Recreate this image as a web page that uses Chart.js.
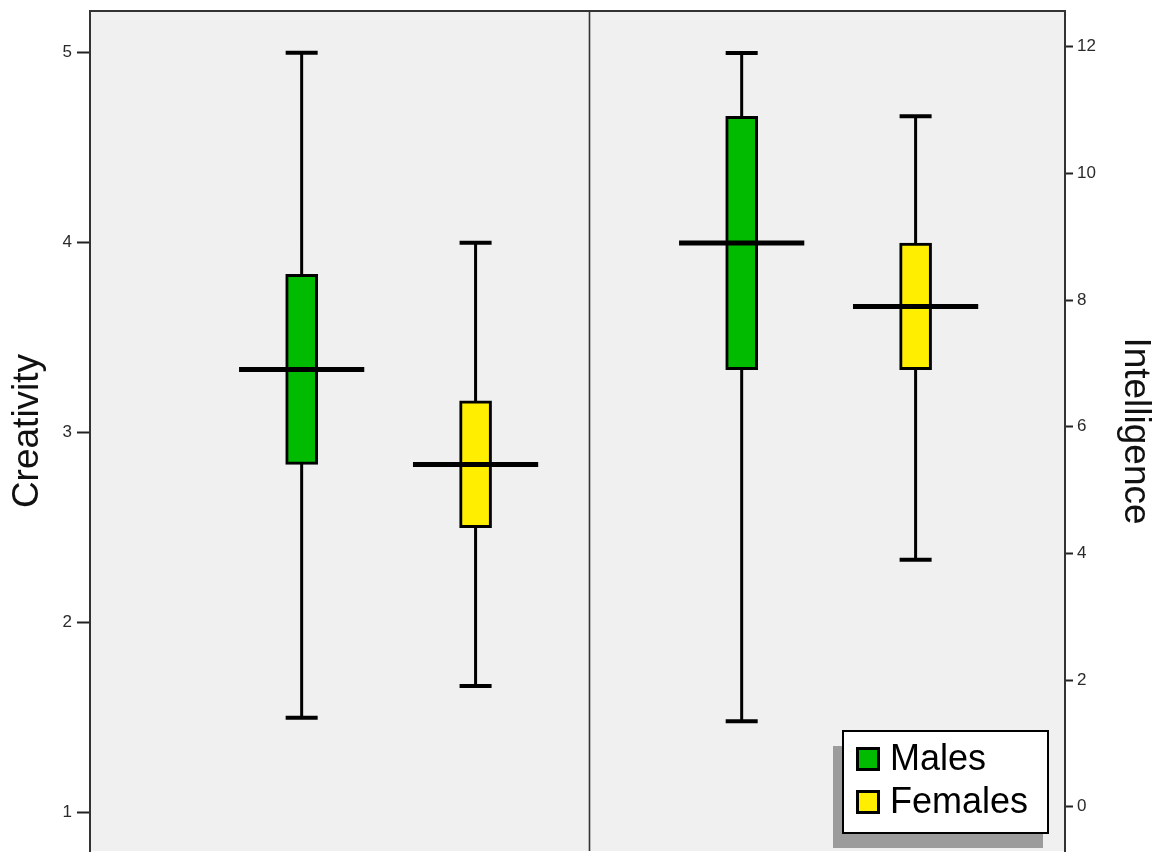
<!DOCTYPE html>
<html>
<head>
<meta charset="utf-8">
<title>Creativity and Intelligence by Sex</title>
<script src="https://cdn.jsdelivr.net/npm/chart.js@4.4.1/dist/chart.umd.min.js"></script>
<style>
  html, body { margin: 0; padding: 0; background: #ffffff; }
  #wrap { width: 1160px; height: 854px; }
  canvas { display: block; }
</style>
</head>
<body>
<div id="wrap"><canvas id="chart" width="1160" height="854"></canvas></div>
<script>
// Groups and measures
const groups = ['Males', 'Females'];
const measures = ['Creativity', 'Intelligence'];

// Creativity five-number summaries (Males, Females)
const creativityMin    = [1.5,   1.667];
const creativityQ1     = [2.833, 2.5];
const creativityMedian = [3.333, 2.833];
const creativityQ3     = [3.833, 3.167];
const creativityMax    = [5.0,   4.0];

// Intelligence five-number summaries (Males, Females)
const intelligenceMin    = [1.35, 3.9];
const intelligenceQ1     = [6.9,  6.9];
const intelligenceMedian = [8.9,  7.9];
const intelligenceQ3     = [10.9, 8.9];
const intelligenceMax    = [11.9, 10.9];

// Tick labels
const creativityTicks   = [1, 2, 3, 4, 5];
const intelligenceTicks = [0, 2, 4, 6, 8, 10, 12];

// ---- styling and layout ----
const FONT = "'Liberation Sans', Arial, Helvetica, sans-serif";
const groupFill = ['#00bb00', '#ffee00'];
const plotBg = '#f0f0f0';
const frameColor = '#333333';

// horizontal layout in x-axis units (one unit = distance between the two boxes of a panel)
const clusterStart = [0, 2.53];
const panelDivider = 1.652;
const xRange = { min: -1.217, max: 4.389 };
const capHalf = 0.092;
const medianHalf = 0.36;

const xPos = (m, g) => clusterStart[m] + g;

const summaries = [
  { min: creativityMin, q1: creativityQ1, med: creativityMedian, q3: creativityQ3, max: creativityMax, axis: 'yC' },
  { min: intelligenceMin, q1: intelligenceQ1, med: intelligenceMedian, q3: intelligenceQ3, max: intelligenceMax, axis: 'yI' }
];

const lineStyle = { type: 'line', borderColor: '#000000', pointRadius: 0, spanGaps: false,
                    tension: 0, borderCapStyle: 'butt', fill: false };

const datasets = [];
summaries.forEach((s, m) => {
  const stems = [], caps = [], medians = [];
  groups.forEach((g, i) => {
    const x = xPos(m, i);
    stems.push({ x, y: s.min[i] }, { x, y: s.max[i] }, { x, y: null });
    caps.push({ x: x - capHalf, y: s.min[i] }, { x: x + capHalf, y: s.min[i] }, { x, y: null },
              { x: x - capHalf, y: s.max[i] }, { x: x + capHalf, y: s.max[i] }, { x, y: null });
    medians.push({ x: x - medianHalf, y: s.med[i] }, { x: x + medianHalf, y: s.med[i] }, { x, y: null });
  });
  datasets.push(Object.assign({}, lineStyle, { label: measures[m] + ' whiskers', data: stems, yAxisID: s.axis, borderWidth: 3, order: 4 }));
  datasets.push(Object.assign({}, lineStyle, { label: measures[m] + ' caps', data: caps, yAxisID: s.axis, borderWidth: 4, order: 3 }));
  datasets.push({
    type: 'bar',
    label: measures[m] + ' boxes',
    data: groups.map((g, i) => ({ x: xPos(m, i), y: [s.q1[i], s.q3[i]] })),
    yAxisID: s.axis,
    backgroundColor: groupFill,
    borderColor: '#000000',
    borderWidth: 3,
    borderSkipped: false,
    barThickness: 32,
    grouped: false,
    order: 2
  });
  datasets.push(Object.assign({}, lineStyle, { label: measures[m] + ' medians', data: medians, yAxisID: s.axis, borderWidth: 5, order: 1 }));
});

// plot background, top frame and panel divider
const panelFrame = {
  id: 'panelFrame',
  beforeDraw(chart) {
    const { ctx, chartArea: a } = chart;
    ctx.save();
    ctx.fillStyle = plotBg;
    ctx.fillRect(a.left, a.top, a.right - a.left, a.bottom - a.top);
    ctx.restore();
  },
  beforeDatasetsDraw(chart) {
    const { ctx, chartArea: a, scales } = chart;
    const xd = Math.round(scales.x.getPixelForValue(panelDivider)) + 0.5;
    ctx.save();
    ctx.strokeStyle = frameColor;
    ctx.lineWidth = 2;
    ctx.beginPath();
    ctx.moveTo(a.left - 1, a.top);
    ctx.lineTo(a.right + 1, a.top);
    ctx.stroke();
    ctx.lineWidth = 1.6;
    ctx.beginPath();
    ctx.moveTo(xd, a.top);
    ctx.lineTo(xd, a.bottom);
    ctx.stroke();
    ctx.restore();
  }
};

// legend with drop shadow in the lower-right corner of the plot
const boxLegend = {
  id: 'boxLegend',
  afterDraw(chart) {
    const { ctx, chartArea: a } = chart;
    const w = 205, h = 102;
    const x = a.right - 17 - w, y = a.bottom - 18 - h;
    ctx.save();
    ctx.fillStyle = '#9c9c9c';
    ctx.fillRect(x - 10, y + 15, w + 5, h);
    ctx.fillStyle = '#ffffff';
    ctx.fillRect(x, y, w, h);
    ctx.strokeStyle = '#000000';
    ctx.lineWidth = 2;
    ctx.strokeRect(x, y, w, h);
    ctx.font = '36px ' + FONT;
    ctx.textBaseline = 'alphabetic';
    ctx.textAlign = 'left';
    groups.forEach((g, i) => {
      const sy = y + 16 + i * 43;
      ctx.fillStyle = groupFill[i];
      ctx.fillRect(x + 13, sy, 24, 24);
      ctx.lineWidth = 3;
      ctx.strokeStyle = '#000000';
      ctx.strokeRect(x + 14.5, sy + 1.5, 21, 21);
      ctx.fillStyle = '#000000';
      ctx.fillText(g, x + 47, sy + 23);
    });
    ctx.restore();
  }
};

function yAxis(position, min, max, ticks, title, tickLen, width, titlePad) {
  return {
    type: 'linear',
    position,
    min,
    max,
    afterBuildTicks: (s) => { s.ticks = ticks.map(v => ({ value: v })); },
    afterFit: (s) => { s.width = width; s.paddingTop = 0; s.paddingBottom = 0; },
    grid: { drawOnChartArea: false, drawTicks: true, tickLength: tickLen, tickColor: '#222222', tickWidth: 2 },
    border: { display: true, color: frameColor, width: 2 },
    ticks: { color: '#2a2a2a', font: { family: FONT, size: 17 }, padding: position === 'left' ? 5 : 4 },
    title: { display: true, text: title, color: '#111111', font: { family: FONT, size: 37 }, padding: { top: titlePad, bottom: 0 } }
  };
}

new Chart(document.getElementById('chart'), {
  type: 'line',
  data: { datasets },
  options: {
    responsive: false,
    animation: false,
    devicePixelRatio: 1,
    events: [],
    layout: { padding: { top: 11, bottom: 3, left: 0, right: 0 } },
    plugins: { legend: { display: false }, tooltip: { enabled: false } },
    scales: {
      x: { type: 'linear', min: xRange.min, max: xRange.max, offset: false, grid: { offset: false }, display: false },
      yC: yAxis('left', 0.798, 5.2195, creativityTicks, measures[0], 13, 90, 6),
      yI: yAxis('right', -0.699, 12.5637, intelligenceTicks, measures[1], 8, 95, 3)
    }
  },
  plugins: [panelFrame, boxLegend]
});
</script>
</body>
</html>
